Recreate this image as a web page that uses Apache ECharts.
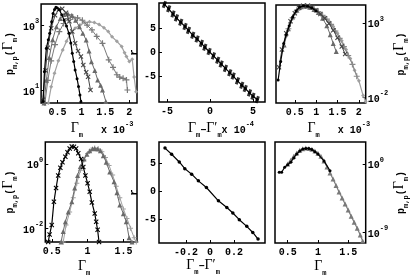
<!DOCTYPE html>
<html><head><meta charset="utf-8">
<script src="https://cdn.jsdelivr.net/npm/echarts@6/dist/echarts.min.js"></script>
<style>html,body{margin:0;padding:0;background:#fff}#c{width:411px;height:278px}</style>
</head><body><div id="c"></div>
<script>
// ---------- DATA ----------
// Panel 1 (top-left): p_{m,p}(Γm) vs Γm (x10^-3), log10 of y values
const P1_K_X = [0.2,0.23,0.27,0.31,0.34,0.38,0.41,0.44,0.47,0.5,0.54,0.59,0.64,0.69,0.74,0.78,0.81,0.84,0.87,0.91,0.94,0.97,0.99];
const P1_K_L = [0.65,1.57,2.29,2.55,2.75,3.1,3.36,3.48,3.55,3.53,3.47,3.32,3.16,2.97,2.75,2.45,2.13,1.88,1.62,1.35,1.11,0.85,0.64];
const P1_X_X = [0.2,0.25,0.3,0.37,0.45,0.53,0.6,0.68,0.75,0.81,0.87,0.93,0.99,1.04,1.1,1.14,1.19];
const P1_X_L = [0.7,1.6,2.3,2.9,3.3,3.48,3.5,3.38,3.12,2.8,2.44,2.2,2.03,1.77,1.55,1.41,1.0];
const P1_T_X = [0.22,0.27,0.33,0.4,0.48,0.56,0.64,0.72,0.8,0.88,0.96,1.03,1.1,1.16,1.21,1.28,1.34,1.4,1.44,1.51];
const P1_T_L = [0.6,1.3,2.0,2.55,2.95,3.2,3.33,3.35,3.3,3.15,2.95,2.75,2.54,2.2,1.87,1.6,1.31,1.15,1.0,0.65];
const P1_P_X = [0.24,0.3,0.37,0.45,0.54,0.63,0.72,0.82,0.92,1.02,1.12,1.22,1.32,1.44,1.57,1.66,1.74,1.8,1.87,1.94,1.96];
const P1_P_L = [0.6,1.3,1.9,2.4,2.8,3.05,3.2,3.25,3.22,3.15,3.0,2.85,2.65,2.44,1.93,1.7,1.47,1.4,1.36,1.31,1.0];
const P1_D_X = [0.31,0.37,0.44,0.52,0.61,0.69,0.77,0.87,0.97,1.07,1.17,1.27,1.37,1.47,1.56,1.64,1.74,1.84,1.9,1.94,2.0,2.06,2.1,2.14];
const P1_D_L = [0.6,1.1,1.52,1.9,2.23,2.5,2.75,2.9,3.0,3.08,3.1,3.08,3.02,2.92,2.8,2.64,2.5,2.34,2.15,2.03,1.88,1.95,1.4,0.95];
const P1_XTICKS = [0.5,1,1.5,2];
const P1_YTICKS = [10,1000];

// Panel 2 (top-middle): r vs Γm-Γ'm (x10^-4)
const P2_X = [-5.3,-4.8,-4.3,-3.9,-3.4,-2.9,-2.5,-2.0,-1.5,-1.0,-0.6,-0.1,0.4,0.9,1.3,1.8,2.3,2.7,3.2,3.7,4.1,4.6,5.0,5.5];
const P2_Y = [10.0,9.1,8.0,7.2,6.3,5.4,4.6,3.6,2.8,1.9,1.1,0.2,-0.7,-1.6,-2.4,-3.3,-4.2,-4.9,-5.9,-6.8,-7.5,-8.4,-9.1,-9.8];
const P2_XTICKS = [-5,0,5];
const P2_YTICKS = [-5,0,5];

// Panel 3 (top-right): collapsed curves, log10 y
const P3_K_X = [0.11,0.17,0.24,0.3,0.37,0.45,0.53,0.61,0.7,0.8,0.9,1.0];
const P3_K_L = [-0.85,0.4,1.6,2.2,2.8,3.4,3.8,4.06,4.15,4.12,4.0,3.8];
const P3_X_X = [0.13,0.2,0.3,0.4,0.5,0.6,0.7,0.8,0.9,1.0,1.1,1.2,1.3,1.4,1.5,1.6,1.68];
const P3_X_L = [0.0,1.2,2.3,3.1,3.65,4.0,4.15,4.15,4.05,3.85,3.6,3.3,2.95,2.5,2.0,1.4,0.9];
const P3_T_X = [0.25,0.35,0.45,0.55,0.65,0.75,0.85,0.95,1.05,1.15,1.25,1.33,1.4,1.47];
const P3_T_L = [1.5,2.6,3.4,3.85,4.08,4.12,4.05,3.9,3.7,3.3,2.8,2.2,1.6,1.06];
const P3_P_X = [0.35,0.45,0.55,0.65,0.75,0.85,0.95,1.05,1.15,1.25,1.35,1.45,1.55,1.65,1.75,1.85,1.95];
const P3_P_L = [2.6,3.35,3.85,4.08,4.14,4.1,3.95,3.75,3.5,3.25,2.9,2.45,1.95,1.4,0.8,0.2,-0.6];
const P3_D_X = [0.3,0.4,0.5,0.6,0.7,0.8,0.9,1.0,1.1,1.2,1.3,1.4,1.5,1.6,1.7,1.8,1.9,2.0,2.1,2.16];
const P3_D_L = [2.1,3.0,3.6,3.95,4.12,4.12,4.02,3.85,3.65,3.38,3.1,2.75,2.3,1.8,1.2,0.6,-0.2,-0.9,-1.9,-2.3];
const P3_XTICKS = [0.5,1,1.5,2];
const P3_YTICKS = [0.01,1000];

// Panel 4 (bottom-left): log10 y
const P4_K_X = [0.45,0.47,0.5,0.53,0.56,0.59,0.62,0.65,0.69,0.72,0.75,0.78,0.81,0.84,0.87,0.91,0.94,0.97,1.0,1.03,1.06,1.1,1.12,1.14,1.16];
const P4_K_L = [-2.43,-2.2,-1.9,-1.18,-0.75,-0.36,-0.12,0.05,0.22,0.36,0.48,0.54,0.53,0.48,0.33,0.15,-0.1,-0.36,-0.6,-0.87,-1.2,-1.54,-1.8,-2.05,-2.43];
const P4_T_X = [0.63,0.66,0.69,0.73,0.78,0.82,0.86,0.9,0.95,0.99,1.03,1.07,1.1,1.14,1.18,1.22,1.26,1.31,1.37,1.41,1.45,1.5,1.54,1.58,1.62];
const P4_T_L = [-2.43,-2.1,-1.8,-1.5,-1.18,-0.75,-0.36,-0.08,0.15,0.3,0.41,0.47,0.48,0.46,0.41,0.25,0.05,-0.25,-0.56,-0.9,-1.28,-1.55,-1.8,-2.3,-2.43];
const P4_P_X = [0.66,0.7,0.75,0.8,0.85,0.9,0.95,1.0,1.05,1.1,1.15,1.2,1.25,1.3,1.35,1.4,1.45,1.5,1.55,1.6,1.65,1.68];
const P4_P_L = [-2.43,-1.9,-1.5,-1.05,-0.6,-0.2,0.12,0.32,0.44,0.49,0.47,0.38,0.2,-0.05,-0.35,-0.7,-1.05,-1.4,-1.7,-2.0,-2.3,-2.43];
const P4_XTICKS = [0.5,1,1.5];
const P4_YTICKS = [0.01,1];

// Panel 5 (bottom-middle): r vs Γm-Γ'm
const P5_X = [-0.375,-0.32,-0.256,-0.21,-0.153,-0.097,-0.03,0.07,0.14,0.19,0.244,0.306,0.356,0.4];
const P5_Y = [7.8,6.7,5.3,4.1,3.1,1.9,0.7,-1.7,-2.9,-3.9,-5.1,-6.3,-7.4,-8.6];
const P5_XTICKS = [-0.2,0,0.2];
const P5_YTICKS = [-5,0,5];

// Panel 6 (bottom-right): log10 y
const P6_K_X = [0.36,0.4,0.45,0.5,0.55,0.6,0.65,0.7,0.75,0.8,0.85,0.9,0.95,1.0,1.1,1.2];
const P6_K_L = [-1.1,-1.1,-0.44,-0.1,0.22,0.8,1.32,1.7,1.98,2.05,2.05,1.9,1.6,1.3,0.4,-0.9];
const P6_T_X = [0.5,0.55,0.6,0.65,0.7,0.75,0.8,0.85,0.9,0.95,1.0,1.05,1.1,1.15,1.2,1.25,1.3,1.35,1.4,1.45,1.5,1.55,1.6,1.65,1.7,1.74];
const P6_T_L = [0.0,0.5,1.0,1.45,1.8,2.0,2.1,2.05,1.95,1.7,1.4,1.0,0.4,-0.4,-1.2,-2.0,-2.85,-3.7,-4.5,-5.3,-6.1,-6.9,-7.7,-8.5,-9.4,-10.2];
const P6_XTICKS = [0.5,1,1.5];
const P6_YTICKS = [1e-9,1];

// ---------- STYLE ----------
const MONO = '"Liberation Mono", "DejaVu Sans Mono", monospace';
const SERIF = '"Liberation Serif", "DejaVu Serif", serif';
const X_SYM = 'path://M0,1.5L1.5,0L5,3.5L8.5,0L10,1.5L6.5,5L10,8.5L8.5,10L5,6.5L1.5,10L0,8.5L3.5,5Z';
const PLUS_SYM = 'path://M4,0H6V4H10V6H6V10H4V6H0V4H4Z';
const BAR_SYM = 'path://M4,0H6V10H4Z';

const tickRich = {
  b: {fontFamily: MONO, fontWeight: 'bold', fontSize: 10, color: '#000', lineHeight: 14, verticalAlign: 'bottom'},
  s: {fontFamily: MONO, fontWeight: 'bold', fontSize: 7, color: '#000', lineHeight: 14, verticalAlign: 'top'}
};
const nameRich = {
  g: {fontFamily: SERIF, fontSize: 14, color: '#000', lineHeight: 18, verticalAlign: 'top'},
  sub: {fontFamily: MONO, fontWeight: 'bold', fontSize: 7, color: '#000', lineHeight: 18, verticalAlign: 'bottom'},
  t: {fontFamily: MONO, fontWeight: 'bold', fontSize: 10, color: '#000', lineHeight: 18, verticalAlign: 'middle'},
  sup: {fontFamily: MONO, fontWeight: 'bold', fontSize: 7, color: '#000', lineHeight: 18, verticalAlign: 'top'},
  r: {fontFamily: MONO, fontWeight: 'bold', fontSize: 11, color: '#000', lineHeight: 10, verticalAlign: 'middle'}
};
const PNAME = '{t|p}{sub|m,p}{t|(}{g|Γ}{sub|m}{t|)}';

const pow = v => Math.pow(10, v);
const zip = (xs, ys) => xs.map((x, i) => [x, ys[i]]);
const zipL = (xs, ls) => xs.map((x, i) => [x, pow(ls[i])]);

const grids = [
  {left: 37, top: 4, width: 100, height: 99},
  {left: 159, top: 3, width: 106, height: 99},
  {left: 276, top: 5, width: 105, height: 98},
  {left: 36, top: 142, width: 101, height: 101},
  {left: 159, top: 142, width: 106, height: 101},
  {left: 275, top: 142, width: 105, height: 101}
].map(g => Object.assign({show: true, borderColor: '#000', borderWidth: 1.5, backgroundColor: 'transparent', containLabel: false}, g));

function xAx(i, min, max, ticks, name, gap, pad) {
  return {
    gridIndex: i, type: 'value', min, max, position: 'bottom',
    axisLine: {show: false, onZero: false}, splitLine: {show: false},
    axisTick: {inside: true, length: 3, customValues: ticks, lineStyle: {color: '#000', width: 1}},
    axisLabel: {customValues: ticks, margin: 4, fontFamily: MONO, fontWeight: 'bold', fontSize: 10, color: '#000'},
    name, nameLocation: 'middle', nameGap: gap,
    nameTextStyle: {rich: nameRich, padding: pad}
  };
}
function logLabel(v) {
  const e = Math.round(Math.log10(v));
  return '{b|10}{s|' + e + '}';
}
function yAxLog(i, min, max, ticks, pos, gap) {
  return {
    gridIndex: i, type: 'log', logBase: 10, min, max, position: pos,
    axisLine: {show: false, onZero: false}, splitLine: {show: false}, minorTick: {show: false},
    axisTick: {inside: true, length: 3, customValues: ticks, lineStyle: {color: '#000', width: 1}},
    axisLabel: {customValues: ticks, margin: 2, formatter: logLabel, rich: tickRich},
    name: PNAME, nameLocation: 'middle', nameGap: gap, nameRotate: 90,
    nameTextStyle: {rich: nameRich}
  };
}
function yAxLin(i, min, max, ticks, gap) {
  return {
    gridIndex: i, type: 'value', min, max, position: 'left',
    axisLine: {show: false, onZero: false}, splitLine: {show: false},
    axisTick: {inside: true, length: 3, customValues: ticks, lineStyle: {color: '#000', width: 1}},
    axisLabel: {customValues: ticks, margin: 3, fontFamily: MONO, fontWeight: 'bold', fontSize: 10, color: '#000'},
    name: '{r|r}', nameLocation: 'middle', nameGap: gap, nameRotate: 90,
    nameTextStyle: {rich: nameRich}
  };
}

function ser(ax, data, color, symbol, size, lw, z) {
  return {
    type: 'line', xAxisIndex: ax, yAxisIndex: ax, data,
    symbol, symbolSize: size, showSymbol: true,
    lineStyle: {color, width: lw}, itemStyle: {color, borderWidth: 0},
    z: z || 2, silent: true, animation: false, clip: true
  };
}
function bars(ax, data) {
  return {
    type: 'scatter', xAxisIndex: ax, yAxisIndex: ax, data,
    symbol: BAR_SYM, symbolSize: [3, 7], symbolRotate: -20,
    itemStyle: {color: '#000'}, silent: true, animation: false
  };
}

const option = {
  animation: false,
  backgroundColor: '#fff',
  grid: grids,
  xAxis: [
    xAx(0, 0.16, 2.16, P1_XTICKS, '{g|Γ}{sub|m}{t|   x 10}{sup|-3}', 18, [0, 0, 0, 26]),
    xAx(1, -5.93, 6.4, P2_XTICKS, '{g|Γ}{sub|m}{t|−}{g|Γ′}{sub|m}{t|x 10}{sup|-4}', 19, [0, 0, 0, 18]),
    xAx(2, 0.06, 2.16, P3_XTICKS, '{g|Γ}{sub|m}{t|   x 10}{sup|-3}', 18, [0, 0, 0, 36]),
    xAx(3, 0.41, 1.69, P4_XTICKS, '{g|Γ}{sub|m}', 17, [0, 14, 0, 0]),
    xAx(4, -0.425, 0.458, P5_XTICKS, '{g|Γ}{sub|m}{t|−}{g|Γ′}{sub|m}', 10, [0, 18, 0, 0]),
    xAx(5, 0.29, 1.79, P6_XTICKS, '{g|Γ}{sub|m}', 16, [0, 0, 0, 0])
  ],
  yAxis: [
    yAxLog(0, pow(0.6), pow(3.65), P1_YTICKS, 'left', 16),
    yAxLin(1, -10.3, 10.3, P2_YTICKS, 9),
    yAxLog(2, pow(-2.4), pow(4.2), P3_YTICKS, 'right', 6),
    yAxLog(3, pow(-2.43), pow(0.68), P4_YTICKS, 'left', 16),
    yAxLin(4, -9.3, 8.9, P5_YTICKS, 9),
    yAxLog(5, pow(-10.45), pow(2.9), P6_YTICKS, 'right', 6)
  ],
  series: [
    // panel 1
    ser(0, zipL(P1_D_X, P1_D_L), '#a0a0a0', 'diamond', 4, 1.2, 2),
    ser(0, zipL(P1_P_X, P1_P_L), '#7a7a7a', PLUS_SYM, 6, 1, 3),
    ser(0, zipL(P1_T_X, P1_T_L), '#6a6a6a', 'triangle', 5, 1, 4),
    ser(0, zipL(P1_X_X, P1_X_L), '#444', X_SYM, 5, 1, 5),
    ser(0, zipL(P1_K_X, P1_K_L), '#000', 'circle', 3, 1.2, 6),
    // panel 2
    ser(1, zip(P2_X, P2_Y), '#000', 'circle', 3, 1.2, 3),
    bars(1, zip(P2_X, P2_Y)),
    // panel 3
    ser(2, zipL(P3_D_X, P3_D_L), '#a0a0a0', 'diamond', 4, 1.2, 2),
    ser(2, zipL(P3_P_X, P3_P_L), '#8a8a8a', PLUS_SYM, 6, 1, 3),
    ser(2, zipL(P3_T_X, P3_T_L), '#6a6a6a', 'triangle', 5, 1, 4),
    ser(2, zipL(P3_X_X, P3_X_L), '#444', X_SYM, 5, 1, 5),
    ser(2, zipL(P3_K_X, P3_K_L), '#000', 'circle', 3, 1.2, 6),
    // panel 4
    ser(3, zipL(P4_P_X, P4_P_L), '#a0a0a0', PLUS_SYM, 5, 1, 2),
    ser(3, zipL(P4_T_X, P4_T_L), '#6a6a6a', 'triangle', 5, 1, 3),
    ser(3, zipL(P4_K_X, P4_K_L), '#000', X_SYM, 5, 1.2, 4),
    // panel 5
    ser(4, zip(P5_X, P5_Y), '#000', 'circle', 3.5, 1.2, 3),
    // panel 6
    ser(5, zipL(P6_T_X, P6_T_L), '#7a7a7a', 'triangle', 5, 1.2, 3),
    ser(5, zipL(P6_K_X, P6_K_L), '#000', 'circle', 3, 1.2, 4)
  ]
};
const chart = echarts.init(document.getElementById('c'), null, {renderer: 'canvas'});
chart.setOption(option);
</script>
</body></html>
